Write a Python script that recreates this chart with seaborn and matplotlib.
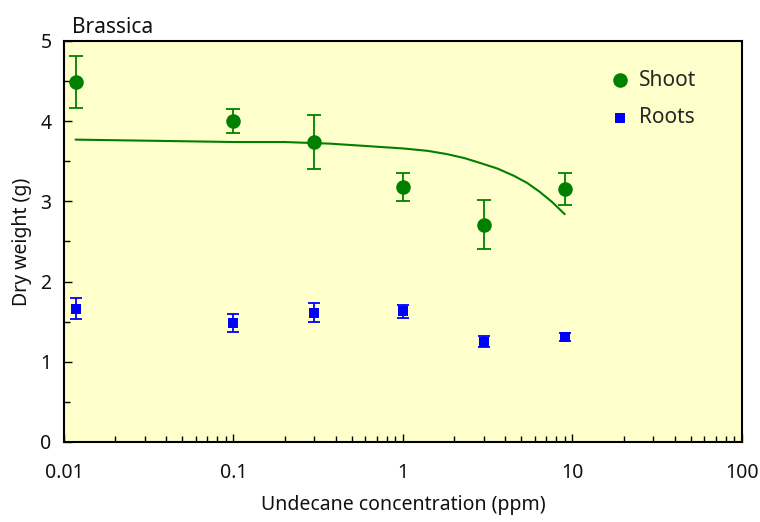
import matplotlib
matplotlib.use("Agg")
import matplotlib.pyplot as plt
import seaborn as sns
import pandas as pd
import numpy as np
from matplotlib.ticker import LogLocator, FixedLocator, NullFormatter

# ---- data ----
conc = [0.0117, 0.1, 0.3, 1.0, 3.0, 9.0]
shoot = [4.49, 4.00, 3.74, 3.18, 2.71, 3.15]
shoot_err = [0.32, 0.15, 0.34, 0.17, 0.31, 0.20]
roots = [1.66, 1.48, 1.61, 1.63, 1.25, 1.31]
roots_err = [0.13, 0.11, 0.12, 0.08, 0.07, 0.05]
fit_x = [0.0117, 0.05, 0.1, 0.2, 0.37, 0.61, 1.0, 1.4, 1.81, 2.3, 2.84, 3.6, 4.5, 5.4, 6.4, 7.6, 9.0]
fit_y = [3.77, 3.75, 3.74, 3.74, 3.72, 3.69, 3.66, 3.63, 3.59, 3.54, 3.48, 3.41, 3.32, 3.23, 3.12, 2.99, 2.84]
xticks = [0.01, 0.1, 1, 10, 100]
xtick_labels = ["0.01", "0.1", "1", "10", "100"]
yticks = [0, 1, 2, 3, 4, 5]

sns.set_theme(style="white")
plt.rcParams['font.family'] = ['Noto Sans', 'DejaVu Sans']

green = "#008000"
blue = "#0000FF"

fig = plt.figure(figsize=(7.6, 5.22), dpi=100)
ax = fig.add_axes([0.0842, 0.1533, 0.8921, 0.7682])
ax.set_facecolor("#FFFFCC")

df = pd.DataFrame({"conc": conc, "Shoot": shoot, "Roots": roots})
fit_df = pd.DataFrame({"x": fit_x, "y": fit_y})

sns.lineplot(data=fit_df, x="x", y="y", ax=ax, color=green, lw=1.5, legend=False)
ax.errorbar(conc, shoot, yerr=shoot_err, fmt="none", ecolor=green, elinewidth=1.3, capsize=5, capthick=1.3)
ax.errorbar(conc, roots, yerr=roots_err, fmt="none", ecolor=blue, elinewidth=1.3, capsize=4.5, capthick=1.3)
sns.scatterplot(data=df, x="conc", y="Shoot", ax=ax, color=green, marker="o", s=110, edgecolor=green, linewidth=0, label="Shoot", zorder=5)
sns.scatterplot(data=df, x="conc", y="Roots", ax=ax, color=blue, marker="s", s=55, edgecolor=blue, linewidth=0, label="Roots", zorder=5)

ax.set_xscale("log")
ax.set_xlim(0.01, 100)
ax.set_ylim(0, 5)
ax.xaxis.set_major_locator(FixedLocator(xticks))
ax.set_xticklabels(xtick_labels)
ax.xaxis.set_minor_locator(LogLocator(base=10, subs=np.arange(2, 10)))
ax.xaxis.set_minor_formatter(NullFormatter())
ax.set_yticks(yticks)
ax.set_yticks([0.5, 1.5, 2.5, 3.5, 4.5], minor=True)

ax.tick_params(axis="both", which="major", direction="in", length=6, width=1, color="black",
               labelsize=14, labelcolor="#111111", bottom=True, left=True, top=False, right=False)
ax.tick_params(axis="x", which="major", pad=15)
ax.tick_params(axis="y", which="major", pad=9)
ax.tick_params(axis="both", which="minor", direction="in", length=4, width=1, color="black",
               bottom=True, left=True, top=False, right=False)
for s in ax.spines.values():
    s.set_color("black")
    s.set_linewidth(1.5)

ax.set_xlabel("Undecane concentration (ppm)", fontsize=14, color="#111111", labelpad=9)
ax.set_ylabel("Dry weight (g)", fontsize=14, color="#111111", labelpad=6)
ax.text(0.012, 1.008, "Brassica", transform=ax.transAxes, fontsize=15, color="#111111", va="bottom", ha="left")

leg = ax.legend(loc="upper right", bbox_to_anchor=(0.96, 0.975), frameon=False, fontsize=15,
                handletextpad=0.3, labelspacing=0.8, markerscale=1.0, handlelength=1.2)

fig.savefig("out.png", dpi=100)
